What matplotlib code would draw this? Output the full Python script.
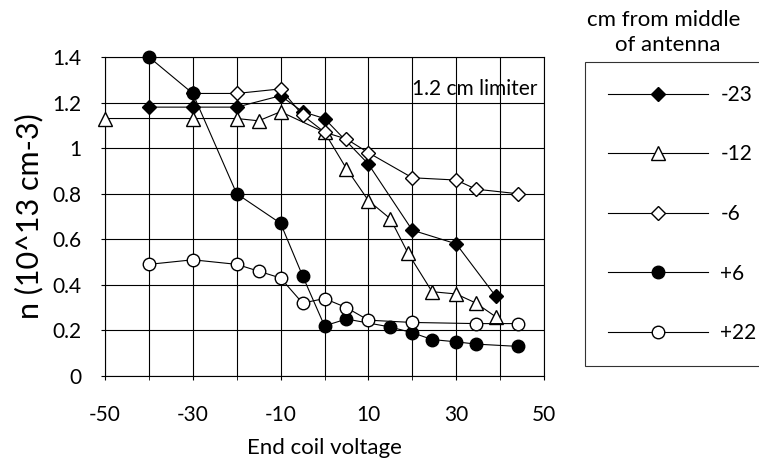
import matplotlib.pyplot as plt

plt.rcParams['font.family'] = ['Lato', 'DejaVu Sans']
plt.rcParams['axes.unicode_minus'] = False

# -23 cm (filled diamond)
x_m23 = [-40, -30, -20, -10, -5, 0, 10, 20, 30, 39]
n_m23 = [1.18, 1.18, 1.18, 1.23, 1.16, 1.13, 0.93, 0.64, 0.58, 0.35]
# -12 cm (open triangle)
x_m12 = [-50, -30, -20, -15, -10, 0, 5, 10, 15, 19, 24.5, 30, 34.5, 39]
n_m12 = [1.13, 1.13, 1.13, 1.12, 1.16, 1.07, 0.91, 0.77, 0.69, 0.54, 0.37, 0.36, 0.32, 0.26]
# -6 cm (open diamond)
x_m6 = [-30, -20, -10, -5, 0, 5, 10, 20, 30, 34.5, 44]
n_m6 = [1.24, 1.24, 1.26, 1.145, 1.07, 1.04, 0.98, 0.87, 0.86, 0.82, 0.80]
# +6 cm (filled circle)
x_p6 = [-40, -30, -20, -10, -5, 0, 5, 15, 20, 24.5, 30, 34.5, 44]
n_p6 = [1.40, 1.24, 0.80, 0.67, 0.44, 0.22, 0.25, 0.215, 0.19, 0.16, 0.15, 0.14, 0.13]
# +22 cm (open circle)
x_p22 = [-40, -30, -20, -15, -10, -5, 0, 5, 10, 20, 34.5, 44]
n_p22 = [0.49, 0.51, 0.49, 0.46, 0.43, 0.32, 0.34, 0.30, 0.245, 0.235, 0.23, 0.23]

labels = ['-23', '-12', '-6', '+6', '+22']

fig = plt.figure(figsize=(7.59, 4.68), dpi=100)
ax = fig.add_axes([105/759, 1-376/468, 439/759, 319/468])

kw = dict(color='black', lw=0.8, zorder=3, clip_on=False)
ax.plot(x_m23, n_m23, marker='D', ms=7, mfc='black', mec='black', label=labels[0], **kw)
ax.plot(x_m12, n_m12, marker='^', ms=10, mfc='white', mec='black', label=labels[1], **kw)
ax.plot(x_m6, n_m6, marker='D', ms=7, mfc='white', mec='black', label=labels[2], **kw)
ax.plot(x_p6, n_p6, marker='o', ms=9, mfc='black', mec='black', label=labels[3], **kw)
ax.plot(x_p22, n_p22, marker='o', ms=9, mfc='white', mec='black', label=labels[4], **kw)

ax.set_xlim(-50, 50)
ax.set_ylim(0, 1.4)
ax.set_xticks(range(-50, 51, 20))
ax.set_xticks(range(-50, 51, 10), minor=True)
ax.set_yticks([0, 0.2, 0.4, 0.6, 0.8, 1.0, 1.2, 1.4])
ax.set_yticklabels(['0', '0.2', '0.4', '0.6', '0.8', '1', '1.2', '1.4'])
ax.grid(True, which='both', color='black', lw=0.8)
ax.tick_params(which='both', length=3, labelsize=15)
ax.tick_params(axis='x', pad=18)
ax.tick_params(axis='y', pad=14)
for s in ax.spines.values():
    s.set_linewidth(0.8)

ax.set_xlabel('End coil voltage', fontsize=16, labelpad=9)
ax.set_ylabel('n (10^13 cm-3)', fontsize=22, labelpad=6)
ax.text(0.985, 0.9, '1.2 cm limiter', transform=ax.transAxes, ha='right', va='center', fontsize=15)

fig.text(664/759, 1-20/468, 'cm from middle', ha='center', va='center', fontsize=16)
fig.text(668/759, 1-45/468, 'of antenna', ha='center', va='center', fontsize=16)
leg = fig.legend(loc='upper left', bbox_to_anchor=(585/759, 1-62/468), frameon=True, fancybox=False,
                 edgecolor='black', handlelength=4.8, labelspacing=1.9, borderpad=1.1, fontsize=15,
                 handletextpad=0.6, borderaxespad=0)
leg.get_frame().set_linewidth(0.8)

fig.savefig('out.png', dpi=100)
